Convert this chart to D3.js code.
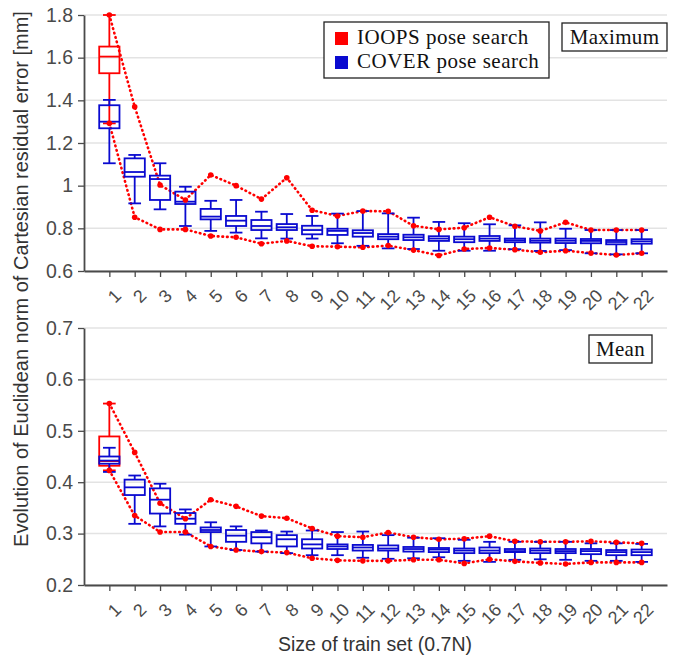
<!DOCTYPE html>
<html><head><meta charset="utf-8">
<script src="https://cdn.jsdelivr.net/npm/d3@7"></script>
<style>body{margin:0;background:#fff}svg{display:block}</style>
</head><body>
<svg id="c" width="684" height="657"></svg>
<script>
const sizes = ["1","2","3","4","5","6","7","8","9","10","11","12","13","14","15","16","17","18","19","20","21","22"];

// Maximum panel – COVER pose search (blue boxes)
const maxBlueLow  = [1.105,0.917,0.889,0.811,0.788,0.780,0.753,0.752,0.752,0.730,0.718,0.706,0.703,0.695,0.695,0.695,0.702,0.694,0.698,0.683,0.678,0.683];
const maxBlueQ1   = [1.269,1.042,0.933,0.914,0.842,0.811,0.792,0.792,0.772,0.769,0.761,0.749,0.745,0.741,0.735,0.741,0.735,0.733,0.731,0.730,0.725,0.728];
const maxBlueMed  = [1.300,1.064,1.031,0.925,0.855,0.836,0.811,0.805,0.792,0.788,0.778,0.761,0.758,0.752,0.749,0.752,0.744,0.742,0.742,0.741,0.736,0.739];
const maxBlueQ3   = [1.377,1.128,1.047,0.972,0.891,0.858,0.839,0.820,0.812,0.798,0.791,0.773,0.770,0.763,0.761,0.764,0.752,0.752,0.752,0.750,0.745,0.749];
const maxBlueHigh = [1.402,1.144,1.105,0.995,0.929,0.933,0.878,0.867,0.858,0.869,0.881,0.870,0.850,0.830,0.824,0.819,0.814,0.828,0.798,0.792,0.792,0.792];
// Maximum panel – IOOPS pose search (red)
const maxRedUpper = [1.800,1.370,1.003,0.933,1.050,1.000,0.937,1.037,0.885,0.858,0.881,0.880,0.812,0.795,0.803,0.852,0.810,0.788,0.828,0.792,0.792,0.792];
const maxRedLower = [1.292,0.852,0.795,0.795,0.764,0.758,0.728,0.741,0.716,0.714,0.711,0.719,0.698,0.673,0.703,0.708,0.700,0.688,0.695,0.684,0.675,0.683];
const maxRedBox   = [1.292,1.527,1.605,1.652,1.800]; // low, q1, median, q3, high at size 1

// Mean panel – COVER pose search (blue boxes)
const meanBlueLow  = [0.420,0.319,0.314,0.298,0.275,0.268,0.265,0.262,0.258,0.258,0.253,0.251,0.252,0.254,0.247,0.245,0.249,0.250,0.249,0.247,0.247,0.245];
const meanBlueQ1   = [0.436,0.375,0.339,0.319,0.303,0.284,0.281,0.275,0.271,0.270,0.267,0.267,0.265,0.264,0.262,0.262,0.264,0.262,0.262,0.260,0.258,0.258];
const meanBlueMed  = [0.442,0.390,0.366,0.329,0.307,0.296,0.293,0.289,0.279,0.275,0.273,0.271,0.270,0.269,0.267,0.267,0.266,0.267,0.266,0.266,0.264,0.264];
const meanBlueQ3   = [0.450,0.405,0.388,0.340,0.312,0.307,0.303,0.297,0.289,0.279,0.278,0.277,0.274,0.272,0.271,0.273,0.270,0.271,0.270,0.270,0.268,0.269];
const meanBlueHigh = [0.467,0.413,0.397,0.347,0.322,0.314,0.306,0.304,0.306,0.303,0.304,0.297,0.292,0.291,0.288,0.284,0.284,0.284,0.284,0.281,0.281,0.280];
// Mean panel – IOOPS pose search (red)
const meanRedUpper = [0.553,0.458,0.359,0.329,0.366,0.353,0.334,0.330,0.310,0.295,0.293,0.302,0.293,0.289,0.290,0.295,0.285,0.284,0.284,0.285,0.283,0.281];
const meanRedLower = [0.423,0.335,0.303,0.303,0.275,0.268,0.265,0.263,0.252,0.248,0.247,0.247,0.249,0.249,0.242,0.250,0.246,0.243,0.241,0.244,0.244,0.244];
const meanRedBox   = [0.423,0.432,0.441,0.489,0.553];

const maxTicks  = [0.6,0.8,1.0,1.2,1.4,1.6,1.8];
const meanTicks = [0.2,0.3,0.4,0.5,0.6,0.7];

const RED = "#ff0000", BLUE = "#0a0ad0", AX = "#4a4a4a", GRID = "#e3e3e3";
const svg = d3.select("#c");
const x = d3.scaleLinear().domain([0, 23]).range([84, 667]);
const boxW = (x(1) - x(0)) * 0.8, capW = (x(1) - x(0)) * 0.5;

function panel(y, ticks, fmt, blue, red, redBox, tag, tagBox) {
  const g = svg.append("g");
  const [y0, y1] = y.range();
  // grid
  g.selectAll("line.grid").data(ticks).join("line")
    .attr("x1", x(0)).attr("x2", x(23)).attr("y1", d => y(d)).attr("y2", d => y(d))
    .attr("stroke", GRID).attr("stroke-width", 1.5);
  // axes
  const ya = g.append("g").attr("transform", `translate(${x(0)},0)`)
    .call(d3.axisLeft(y).tickValues(ticks).tickFormat(fmt).tickSize(6).tickSizeOuter(0));
  const xa = g.append("g").attr("transform", `translate(0,${y0})`)
    .call(d3.axisBottom(x).tickValues(d3.range(1, 23)).tickFormat("").tickSize(6).tickSizeOuter(0));
  [ya, xa].forEach(a => {
    a.select(".domain").attr("stroke", AX).attr("stroke-width", 1.8);
    a.selectAll(".tick line").attr("stroke", AX).attr("stroke-width", 1.3);
  });
  ya.selectAll("text").attr("font-family", "Liberation Sans, Arial, sans-serif").attr("font-size", 19.5).attr("fill", "#4a4a4a").attr("dx", -2);
  // rotated x tick labels
  g.selectAll("text.xl").data(sizes).join("text")
    .attr("transform", (d, i) => `translate(${x(i + 1) + 13},${y0 + 26}) rotate(-45)`)
    .attr("text-anchor", "end").attr("font-family", "Liberation Sans, Arial, sans-serif")
    .attr("font-size", 18).attr("fill", "#4a4a4a").text(d => d);

  // red dotted lines
  const line = d3.line().x((d, i) => x(i + 1)).y(d => y(d));
  [red.upper, red.lower].forEach(arr => {
    g.append("path").attr("d", line(arr)).attr("fill", "none").attr("stroke", RED)
      .attr("stroke-width", 2.6).attr("stroke-linecap", "round").attr("stroke-dasharray", "0.6,4");
  });

  // boxes
  function drawBox(gg, xc, lo, q1, md, q3, hi, col, sw) {
    gg.append("line").attr("x1", xc).attr("x2", xc).attr("y1", y(hi)).attr("y2", y(q3)).attr("stroke", col).attr("stroke-width", sw);
    gg.append("line").attr("x1", xc).attr("x2", xc).attr("y1", y(q1)).attr("y2", y(lo)).attr("stroke", col).attr("stroke-width", sw);
    gg.append("line").attr("x1", xc - capW / 2).attr("x2", xc + capW / 2).attr("y1", y(hi)).attr("y2", y(hi)).attr("stroke", col).attr("stroke-width", sw);
    gg.append("line").attr("x1", xc - capW / 2).attr("x2", xc + capW / 2).attr("y1", y(lo)).attr("y2", y(lo)).attr("stroke", col).attr("stroke-width", sw);
    gg.append("rect").attr("x", xc - boxW / 2).attr("width", boxW).attr("y", y(q3)).attr("height", y(q1) - y(q3))
      .attr("fill", "none").attr("stroke", col).attr("stroke-width", sw);
    gg.append("line").attr("x1", xc - boxW / 2).attr("x2", xc + boxW / 2).attr("y1", y(md)).attr("y2", y(md)).attr("stroke", col).attr("stroke-width", sw);
  }
  const rb = g.append("g");
  drawBox(rb, x(1), ...redBox, RED, 1.8);
  const bb = g.append("g");
  sizes.forEach((s, i) => drawBox(bb, x(i + 1), blue.low[i], blue.q1[i], blue.med[i], blue.q3[i], blue.high[i], BLUE, 1.8));

  // red markers
  [red.upper, red.lower].forEach(arr => {
    g.selectAll(null).data(arr).join("circle").attr("cx", (d, i) => x(i + 1)).attr("cy", d => y(d))
      .attr("r", 2.8).attr("fill", RED);
  });

  // tag box
  const tg = g.append("g");
  tg.append("rect").attr("x", tagBox[0]).attr("y", tagBox[1]).attr("width", tagBox[2]).attr("height", tagBox[3])
    .attr("fill", "#fff").attr("stroke", "#222").attr("stroke-width", 1.3);
  tg.append("text").attr("x", tagBox[0] + tagBox[2] / 2).attr("y", tagBox[1] + tagBox[3] / 2 + 7)
    .attr("text-anchor", "middle").attr("font-family", "Liberation Serif, Times New Roman, serif")
    .attr("font-size", 21).attr("letter-spacing", 0.3).attr("fill", "#111").text(tag);
  return g;
}

const yMax = d3.scaleLinear().domain([0.6, 1.8]).range([271, 15]);
const yMean = d3.scaleLinear().domain([0.2, 0.7]).range([585, 328]);
const fmtMax = d => (d === 1 ? "1" : d3.format(".1f")(d));
panel(yMax, maxTicks, fmtMax,
  {low: maxBlueLow, q1: maxBlueQ1, med: maxBlueMed, q3: maxBlueQ3, high: maxBlueHigh},
  {upper: maxRedUpper, lower: maxRedLower}, maxRedBox, "Maximum", [562, 23, 105, 28]);
panel(yMean, meanTicks, d3.format(".1f"),
  {low: meanBlueLow, q1: meanBlueQ1, med: meanBlueMed, q3: meanBlueQ3, high: meanBlueHigh},
  {upper: meanRedUpper, lower: meanRedLower}, meanRedBox, "Mean", [589, 335, 63, 28]);

// legend
const legendItems = [{name: "IOOPS pose search", col: RED}, {name: "COVER pose search", col: BLUE}];
const lg = svg.append("g");
lg.append("rect").attr("x", 324).attr("y", 22).attr("width", 225).attr("height", 56)
  .attr("fill", "#fff").attr("stroke", "#222").attr("stroke-width", 1.3);
legendItems.forEach((d, i) => {
  lg.append("rect").attr("x", 335).attr("y", 32 + i * 24).attr("width", 13).attr("height", 13).attr("fill", d.col);
  lg.append("text").attr("x", 357).attr("y", 44 + i * 24).attr("font-family", "Liberation Serif, Times New Roman, serif")
    .attr("font-size", 21).attr("letter-spacing", 0.5).attr("fill", "#111").text(d.name);
});

// axis titles
svg.append("text").attr("x", 375).attr("y", 651).attr("text-anchor", "middle")
  .attr("font-family", "Liberation Sans, Arial, sans-serif").attr("font-size", 19.5).attr("fill", "#333")
  .text("Size of train set (0.7N)");
svg.append("text").attr("transform", "translate(28,279) rotate(-90)").attr("text-anchor", "middle")
  .attr("font-family", "Liberation Sans, Arial, sans-serif").attr("font-size", 20).attr("fill", "#333")
  .text("Evolution of Euclidean norm of Cartesian residual error [mm]");
</script>
</body></html>
